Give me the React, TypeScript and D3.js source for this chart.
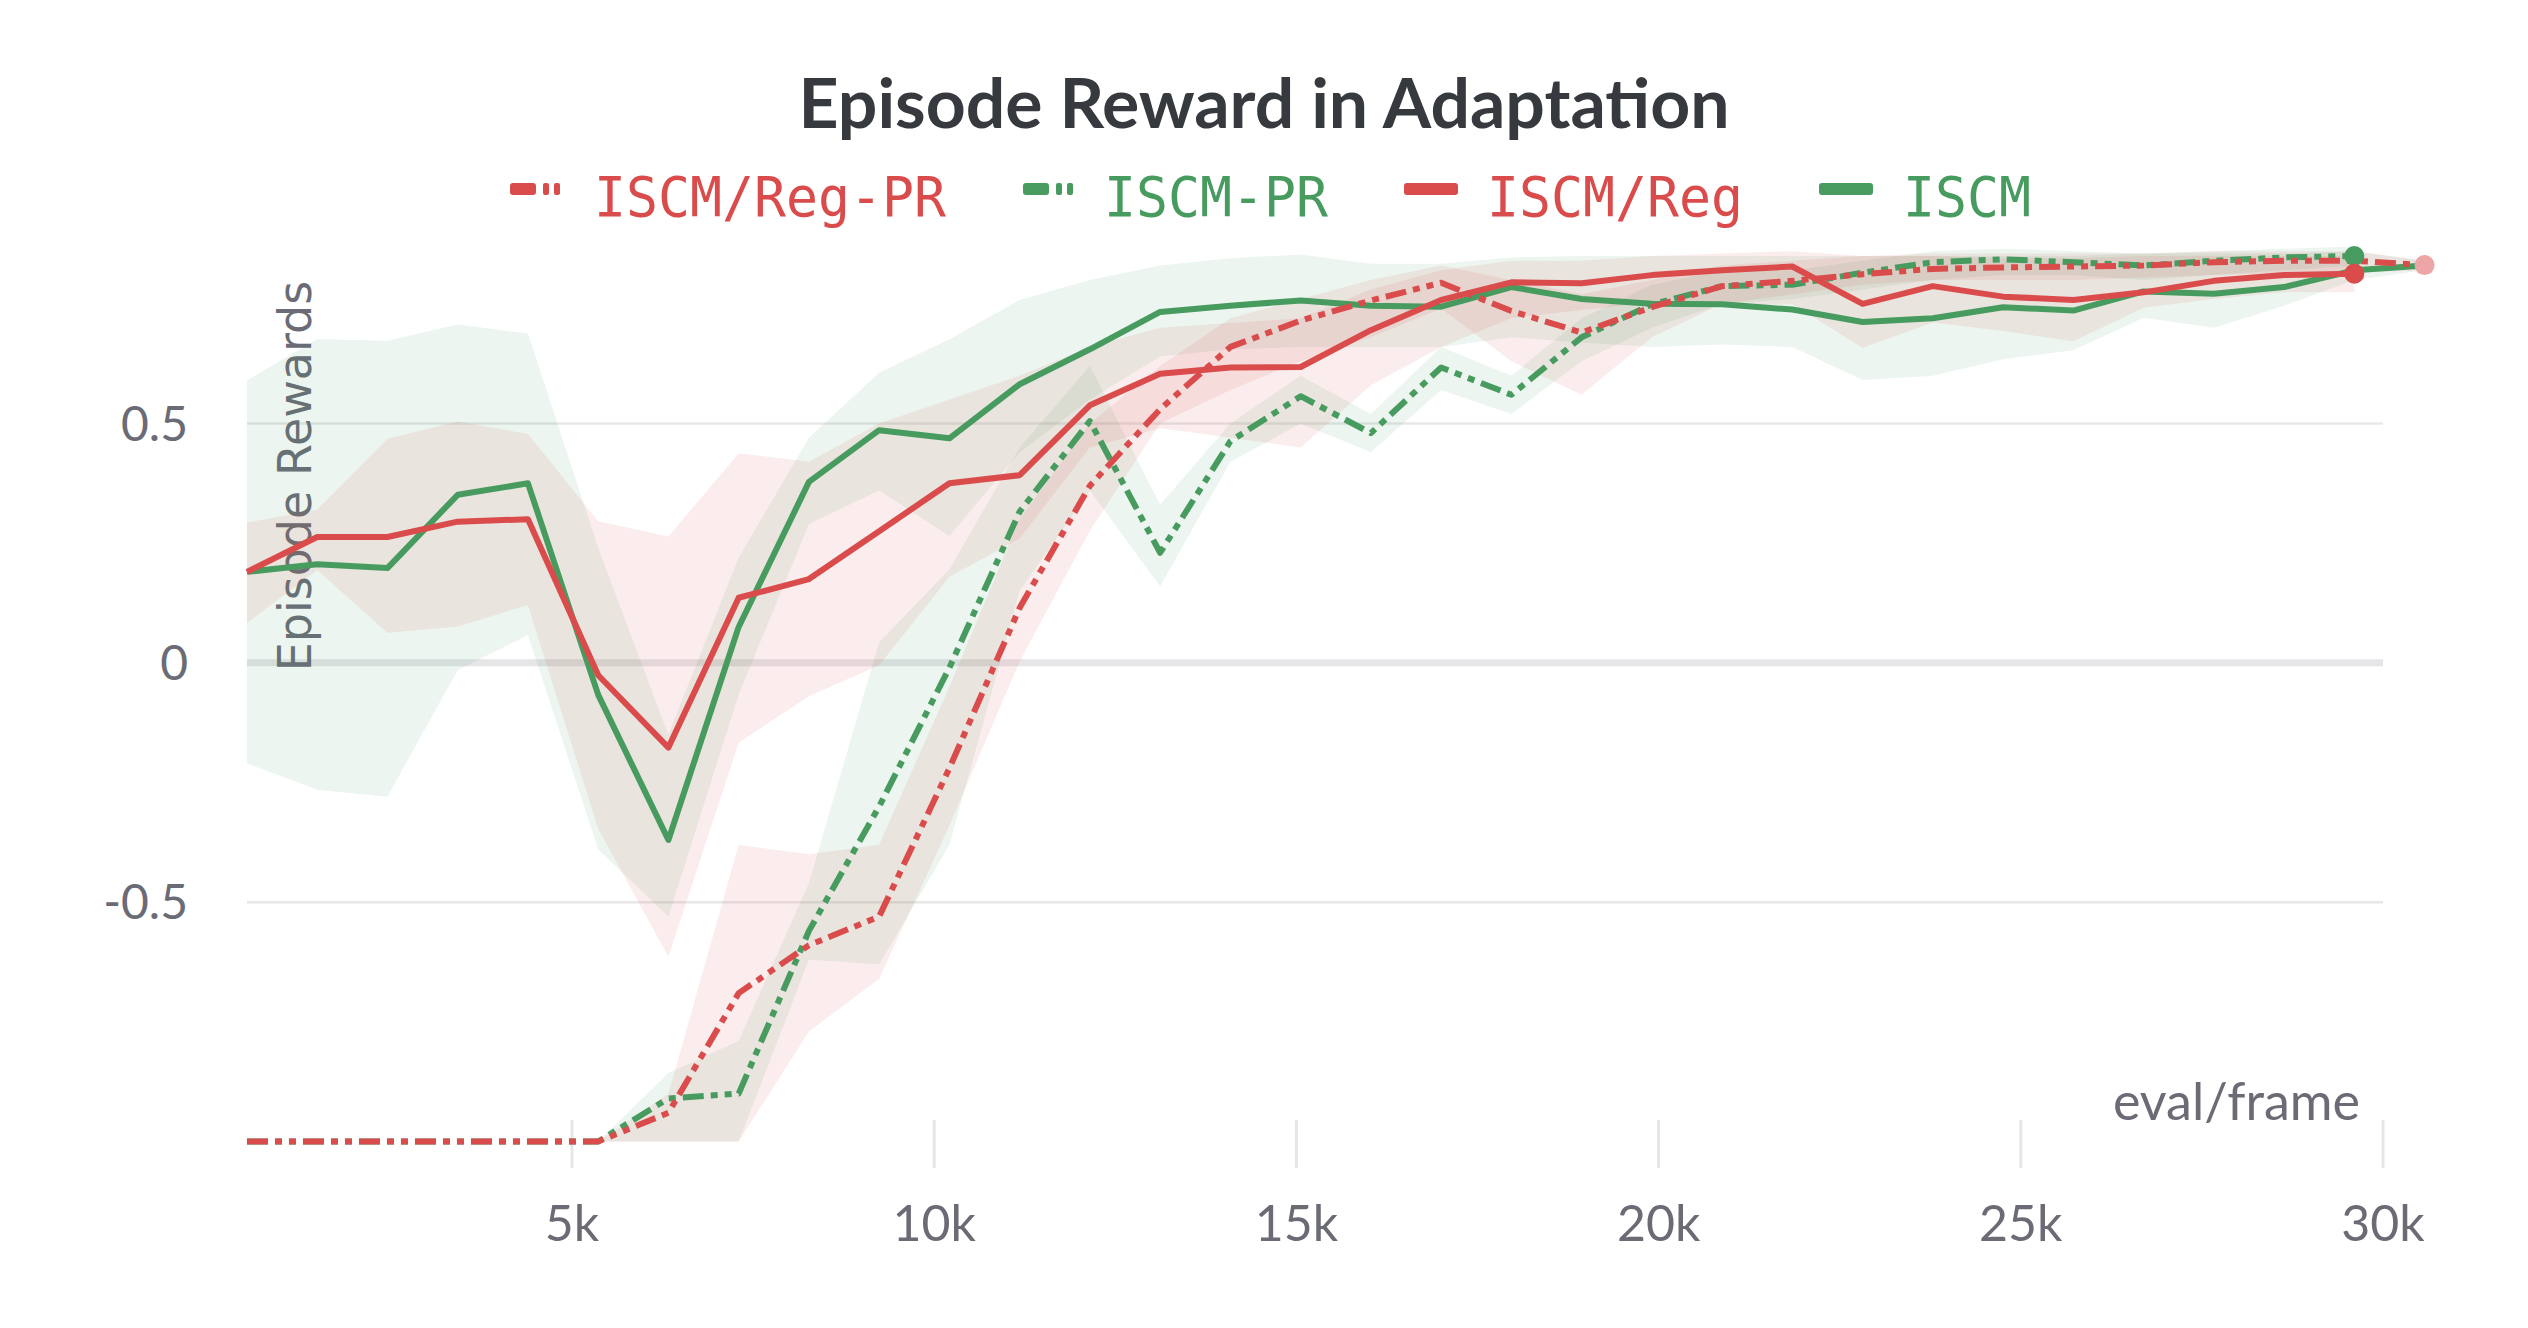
import React from 'react';
import * as d3 from 'd3';

// eval/frame values for each evaluation point
const frames = [
  513, 1483, 2452, 3422, 4392, 5362, 6331, 7301, 8271, 9240, 10210, 11180, 12149, 13119,
  14089, 15059, 16028, 16998, 17968, 18937, 19907, 20877, 21846, 22816, 23786, 24756,
  25725, 26695, 27665, 28634, 29604, 30574,
];

// ISCM (green, solid)
const iscm = [
  0.19, 0.206, 0.198, 0.351, 0.375, -0.067, -0.37, 0.075, 0.378, 0.486, 0.469, 0.582, 0.655,
  0.733, 0.746, 0.757, 0.746, 0.744, 0.785, 0.76, 0.75, 0.749, 0.738, 0.712, 0.72, 0.743,
  0.736, 0.776, 0.771, 0.785, 0.82, 0.83,
];
const iscmLo = [
  -0.21, -0.265, -0.28, -0.015, 0.058, -0.39, -0.53, -0.066, 0.29, 0.36, 0.265, 0.44, 0.55,
  0.64, 0.655, 0.66, 0.66, 0.66, 0.68, 0.669, 0.66, 0.665, 0.66, 0.591, 0.6, 0.634, 0.653,
  0.721, 0.7, 0.746, 0.8, 0.82,
];
const iscmHi = [
  0.59, 0.676, 0.673, 0.707, 0.688, 0.24, -0.15, 0.22, 0.47, 0.606, 0.676, 0.758, 0.8, 0.83,
  0.845, 0.853, 0.834, 0.834, 0.847, 0.85, 0.85, 0.85, 0.85, 0.85, 0.85, 0.85, 0.85, 0.855,
  0.855, 0.855, 0.86, 0.84,
];

// ISCM/Reg (red, solid)
const iscmReg = [
  0.19, 0.263, 0.263, 0.295, 0.3, -0.026, -0.177, 0.136, 0.175, 0.275, 0.375, 0.392, 0.538,
  0.604, 0.617, 0.618, 0.695, 0.758, 0.795, 0.793, 0.81, 0.82, 0.828, 0.75, 0.787, 0.765,
  0.758, 0.774, 0.798, 0.81, 0.813,
];
const iscmRegLo = [
  0.083, 0.194, 0.063, 0.076, 0.121, -0.347, -0.614, -0.167, -0.07, -0.005, 0.18, 0.26, 0.45,
  0.49, 0.47, 0.45, 0.58, 0.66, 0.72, 0.737, 0.753, 0.746, 0.749, 0.658, 0.711, 0.693, 0.672,
  0.742, 0.76, 0.774, 0.774,
];
const iscmRegHi = [
  0.293, 0.32, 0.468, 0.504, 0.478, 0.296, 0.264, 0.438, 0.42, 0.5, 0.55, 0.6, 0.66, 0.7,
  0.71, 0.72, 0.78, 0.82, 0.84, 0.84, 0.85, 0.855, 0.86, 0.85, 0.85, 0.845, 0.845, 0.85, 0.85,
  0.85, 0.85,
];

// ISCM-PR (green, dash-dot-dot)
const iscmPr = [
  -1, -1, -1, -1, -1, -1, -0.91, -0.9, -0.56, -0.3, -0.01, 0.316, 0.505, 0.23, 0.463, 0.557,
  0.48, 0.617, 0.56, 0.68, 0.749, 0.787, 0.79, 0.815, 0.837, 0.843, 0.837, 0.83, 0.84, 0.847,
  0.85,
];
const iscmPrLo = [
  -1, -1, -1, -1, -1, -1, -1, -1, -0.62, -0.63, -0.38, 0.15, 0.36, 0.16, 0.42, 0.5, 0.44,
  0.57, 0.52, 0.63, 0.7, 0.75, 0.76, 0.78, 0.8, 0.81, 0.81, 0.8, 0.81, 0.82, 0.83,
];
const iscmPrHi = [
  -1, -1, -1, -1, -1, -1, -0.857, -0.79, -0.46, 0.043, 0.195, 0.45, 0.62, 0.33, 0.5, 0.6,
  0.52, 0.66, 0.6, 0.72, 0.79, 0.82, 0.82, 0.84, 0.86, 0.865, 0.86, 0.855, 0.86, 0.865, 0.87,
];

// ISCM/Reg-PR (red, dash-dot-dot)
const iscmRegPr = [
  -1, -1, -1, -1, -1, -1, -0.94, -0.69, -0.59, -0.53, -0.22, 0.115, 0.37, 0.53, 0.66, 0.715,
  0.757, 0.794, 0.735, 0.69, 0.743, 0.787, 0.798, 0.812, 0.823, 0.826, 0.828, 0.83, 0.837,
  0.84, 0.84, 0.831,
];
const iscmRegPrLo = [
  -1, -1, -1, -1, -1, -1, -1, -1, -0.77, -0.66, -0.34, 0.003, 0.276, 0.5, 0.57, 0.63, 0.68,
  0.74, 0.63, 0.56, 0.68, 0.75, 0.77, 0.79, 0.8, 0.8, 0.8, 0.805, 0.81, 0.815, 0.815, 0.82,
];
const iscmRegPrHi = [
  -1, -1, -1, -1, -1, -1, -0.9, -0.38, -0.4, -0.38, -0.05, 0.3, 0.5, 0.62, 0.72, 0.76, 0.8,
  0.83, 0.8, 0.77, 0.8, 0.83, 0.84, 0.85, 0.855, 0.855, 0.855, 0.855, 0.86, 0.86, 0.86, 0.84,
];

const xTicks = [5000, 10000, 15000, 20000, 25000, 30000];
const xTickLabels = ['5k', '10k', '15k', '20k', '25k', '30k'];
const yTicks = [-0.5, 0, 0.5];
const yTickLabels = ['-0.5', '0', '0.5'];

const RED = '#da4c4c';
const GREEN = '#479b5f';
const GREY = '#6b6b76';
const DASH = '21 7 7 7 7 7';

const series = [
  { name: 'ISCM', color: GREEN, dashed: false, v: iscm, lo: iscmLo, hi: iscmHi },
  { name: 'ISCM-PR', color: GREEN, dashed: true, v: iscmPr, lo: iscmPrLo, hi: iscmPrHi },
  { name: 'ISCM/Reg', color: RED, dashed: false, v: iscmReg, lo: iscmRegLo, hi: iscmRegHi },
  { name: 'ISCM/Reg-PR', color: RED, dashed: true, v: iscmRegPr, lo: iscmRegPrLo, hi: iscmRegPrHi },
];

const legendItems = [
  { name: 'ISCM/Reg-PR', color: RED, dashed: true, mx: 510, tx: 594 },
  { name: 'ISCM-PR', color: GREEN, dashed: true, mx: 1023, tx: 1104 },
  { name: 'ISCM/Reg', color: RED, dashed: false, mx: 1404, tx: 1487 },
  { name: 'ISCM', color: GREEN, dashed: false, mx: 1819, tx: 1903 },
];

const App: React.FC = () => {
  const width = 2528;
  const height = 1328;

  const x = d3.scaleLinear().domain([0, 30000]).range([209.8, 2383]);
  const y = d3.scaleLinear().domain([-1, 0.5]).range([1141.5, 423.5]);

  const line = d3
    .line<number>()
    .x((_, i) => x(frames[i]))
    .y((d) => y(d));

  const area = (lo: number[], hi: number[]) =>
    d3
      .area<number>()
      .x((_, i) => x(frames[i]))
      .y0((_, i) => y(lo[i]))
      .y1((d) => y(d))(hi);

  const gridLeft = x(frames[0]);
  const gridRight = x(30000);

  return (
    <svg
      width={width}
      height={height}
      style={{ position: 'absolute', left: 0, top: 0, background: '#fff' }}
    >
      {/* title */}
      <text
        x={1264}
        y={128}
        textAnchor="middle"
        fontFamily="Lato"
        fontWeight={700}
        fontSize={68}
        fill="#36393d"
        textLength={931}
        lengthAdjust="spacingAndGlyphs"
      >
        Episode Reward in Adaptation
      </text>

      {/* legend */}
      {legendItems.map((l) => (
        <g key={l.name}>
          {l.dashed ? (
            <>
              <rect x={l.mx} y={183} width={26} height={12} rx={3} fill={l.color} />
              <rect x={l.mx + 33} y={183} width={6} height={12} rx={2} fill={l.color} />
              <rect x={l.mx + 44} y={183} width={6} height={12} rx={2} fill={l.color} />
            </>
          ) : (
            <rect x={l.mx} y={183} width={54} height={12} rx={3} fill={l.color} />
          )}
          <text
            x={l.tx}
            y={216}
            fontFamily="DejaVu Sans Mono"
            fontSize={55}
            fill={l.color}
            textLength={l.name.length * 32}
            lengthAdjust="spacingAndGlyphs"
          >
            {l.name}
          </text>
        </g>
      ))}

      {/* grid */}
      {yTicks.map((t) => (
        <line
          key={t}
          x1={gridLeft}
          x2={gridRight}
          y1={y(t)}
          y2={y(t)}
          stroke={t === 0 ? '#e6e6e9' : '#e8e8e8'}
          strokeWidth={t === 0 ? 7 : 2.5}
        />
      ))}
      {xTicks.map((t) => (
        <line key={t} x1={x(t)} x2={x(t)} y1={1120} y2={1168} stroke="#e6e6e6" strokeWidth={3} />
      ))}

      {/* y axis title */}
      <text
        transform="translate(311,476) rotate(-90)"
        textAnchor="middle"
        fontFamily="DejaVu Sans"
        fontSize={46}
        fill={GREY}
      >
        Episode Rewards
      </text>

      {/* tick labels */}
      {yTicks.map((t, i) => (
        <text
          key={t}
          x={188}
          y={y(t) + 17}
          textAnchor="end"
          fontFamily="Lato"
          fontSize={48}
          fill={GREY}
        >
          {yTickLabels[i]}
        </text>
      ))}
      {xTicks.map((t, i) => (
        <text
          key={t}
          x={x(t)}
          y={1241}
          textAnchor="middle"
          fontFamily="Lato"
          fontSize={50}
          fill={GREY}
        >
          {xTickLabels[i]}
        </text>
      ))}
      <text x={2360} y={1120} textAnchor="end" fontFamily="Lato" fontSize={52} fill={GREY}>
        eval/frame
      </text>

      {/* bands */}
      {series.map((s) => (
        <path key={s.name + '-band'} d={area(s.lo, s.hi) ?? ''} fill={s.color} fillOpacity={0.1} />
      ))}

      {/* lines */}
      {series.map((s) => (
        <path
          key={s.name}
          d={line(s.v) ?? ''}
          fill="none"
          stroke={s.color}
          strokeWidth={6}
          strokeLinejoin="round"
          strokeDasharray={s.dashed ? DASH : undefined}
        />
      ))}

      {/* end markers */}
      <circle cx={x(frames[30])} cy={y(iscmPr[30])} r={10} fill={GREEN} />
      <circle cx={x(frames[30])} cy={y(iscmReg[30])} r={10} fill={RED} />
      <circle cx={x(frames[31])} cy={y(iscmRegPr[31])} r={10} fill="#eea5a5" />
    </svg>
  );
};

export default App;
